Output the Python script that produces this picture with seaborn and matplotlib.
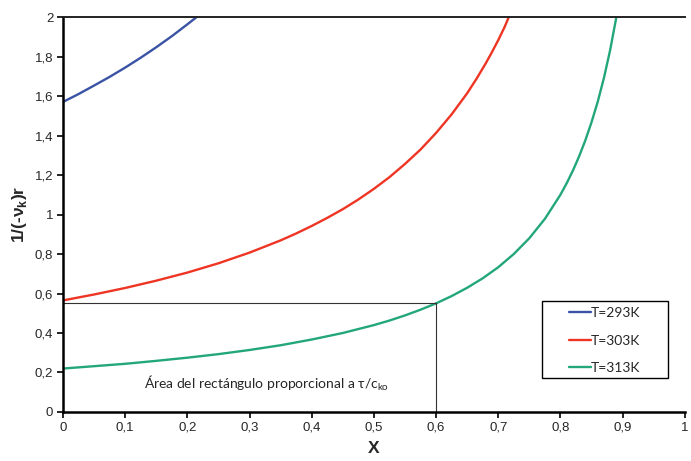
import pandas as pd
import matplotlib
matplotlib.use("Agg")
import matplotlib.pyplot as plt
from matplotlib.patches import Rectangle
import seaborn as sns

# values
x_293 = [0, 0.025, 0.05, 0.075, 0.1, 0.125, 0.15, 0.175, 0.2, 0.215]
y_293 = [1.57, 1.61, 1.653, 1.697, 1.744, 1.794, 1.847, 1.903, 1.963, 2.0]

x_303 = [0, 0.05, 0.1, 0.15, 0.2, 0.25, 0.3, 0.35, 0.375, 0.4, 0.425, 0.45,
         0.475, 0.5, 0.525, 0.55, 0.575, 0.6, 0.625, 0.65, 0.665, 0.68, 0.69,
         0.7, 0.71, 0.717]
y_303 = [0.565, 0.595, 0.628, 0.665, 0.706, 0.753, 0.807, 0.869, 0.904, 0.942,
         0.983, 1.027, 1.076, 1.13, 1.189, 1.256, 1.329, 1.413, 1.507, 1.614,
         1.687, 1.766, 1.823, 1.883, 1.948, 2.0]

x_313 = [0, 0.05, 0.1, 0.15, 0.2, 0.25, 0.3, 0.35, 0.4, 0.45, 0.5, 0.525,
         0.55, 0.575, 0.6, 0.625, 0.65, 0.675, 0.7, 0.725, 0.75, 0.775, 0.8,
         0.81, 0.82, 0.83, 0.84, 0.85, 0.86, 0.87, 0.88, 0.89]
y_313 = [0.22, 0.232, 0.244, 0.259, 0.275, 0.293, 0.314, 0.338, 0.367, 0.40,
         0.44, 0.463, 0.489, 0.518, 0.55, 0.587, 0.629, 0.677, 0.733, 0.80,
         0.88, 0.978, 1.10, 1.158, 1.222, 1.294, 1.375, 1.467, 1.571, 1.692,
         1.833, 2.0]

labels = ["T=293K", "T=303K", "T=313K"]
colors = ["#3A53A4", "#EE3524", "#23A77A"]

x_ticks = [0, 0.1, 0.2, 0.3, 0.4, 0.5, 0.6, 0.7, 0.8, 0.9, 1]
y_ticks = [0, 0.2, 0.4, 0.6, 0.8, 1, 1.2, 1.4, 1.6, 1.8, 2]

rect_x = 0.6
rect_y = 0.55

frames = []
for lab, xs, ys in zip(labels, [x_293, x_303, x_313], [y_293, y_303, y_313]):
    frames.append(pd.DataFrame({"X": xs, "y": ys, "T": lab}))
df = pd.concat(frames, ignore_index=True)

sns.set_style("white")
plt.rcParams["font.family"] = ["Liberation Sans", "DejaVu Sans"]

fig = plt.figure(figsize=(6.91, 4.61), dpi=100)
ax = fig.add_axes([0.0912, 0.1063, 0.8998, 0.8568])

sns.lineplot(data=df, x="X", y="y", hue="T", palette=colors, linewidth=1.7,
             sort=False, estimator=None, ax=ax, legend=True)

# rectangle from X=0 to 0.6
ax.plot([0, rect_x], [rect_y, rect_y], color="#333333", linewidth=0.8)
ax.plot([rect_x, rect_x], [0, rect_y], color="#333333", linewidth=0.8)

ax.text(0.327, 0.147, "Área del rectángulo proporcional a τ/c$_{\\mathregular{ko}}$",
        ha="center", va="center", fontsize=10, family=["Lato", "DejaVu Sans"])

ax.set_xlim(0, 1)
ax.set_ylim(0, 2)
ax.set_xticks(x_ticks)
ax.set_yticks(y_ticks)
ax.set_xticklabels([f"{v:g}".replace(".", ",") for v in x_ticks], fontsize=9.5)
ax.set_yticklabels([f"{v:g}".replace(".", ",") for v in y_ticks], fontsize=9.5)
ax.tick_params(axis="both", direction="out", length=4, width=1.2, color="black",
               left=True, bottom=True, pad=3)

ax.set_xlabel("X", fontsize=12.5, fontweight="bold", labelpad=5)
ax.set_ylabel("1/(-ν$_{\\mathregular{k}}$)r", fontsize=12.5, fontweight="bold", labelpad=4)

for side in ["left", "bottom"]:
    ax.spines[side].set_linewidth(1.8)
    ax.spines[side].set_color("black")
ax.spines["top"].set_linewidth(1.4)
ax.spines["top"].set_color("#222222")
ax.spines["right"].set_visible(False)

# legend box drawn separately so the entries sit centred in it
ax.add_patch(Rectangle((0.77, 0.086), 0.2026, 0.195, transform=ax.transAxes,
                       facecolor="white", edgecolor="black", linewidth=1.0,
                       zorder=4, clip_on=False))
leg = ax.legend(loc="center", bbox_to_anchor=(0.871, 0.181),
                borderaxespad=0, frameon=False, handlelength=1.6,
                handletextpad=0.0, labelspacing=1.12, borderpad=0.3,
                prop={"family": ["Lato", "DejaVu Sans"], "size": 10})
leg.set_zorder(5)

fig.savefig("out.png", dpi=100)
